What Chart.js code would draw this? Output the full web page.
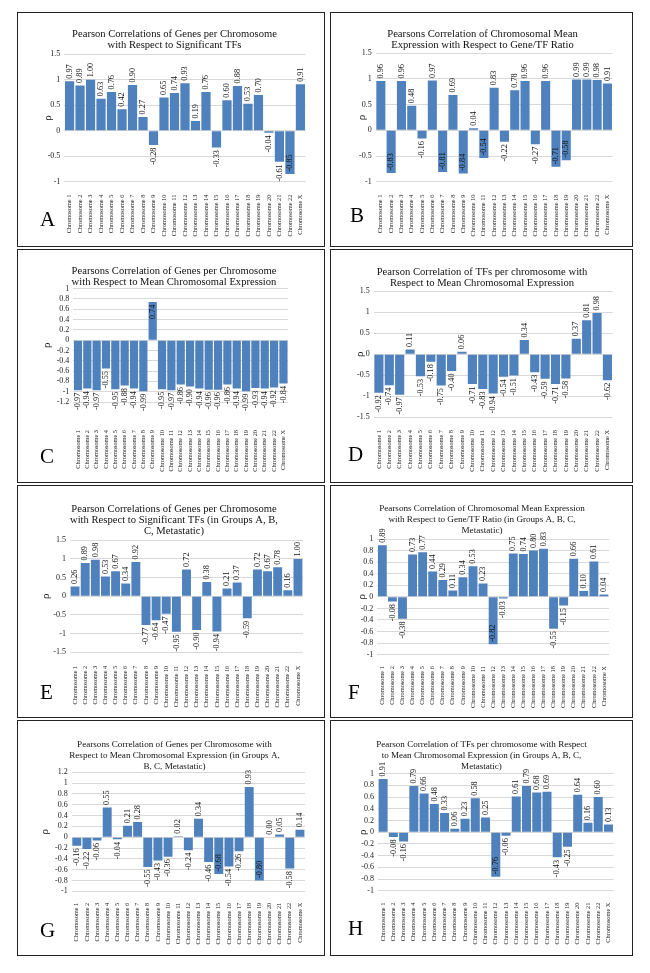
<!DOCTYPE html>
<html>
<head>
<meta charset="utf-8">
<script src="https://cdn.jsdelivr.net/npm/chart.js@4.4.0/dist/chart.umd.min.js"></script>
<style>
  body { margin: 0; width: 650px; height: 973px; position: relative; overflow: hidden; background: #fff; font-family: "Liberation Serif", "Times New Roman", serif; }
  .box { position: absolute; border: 1.5px solid #222; box-sizing: border-box; }
  .wrap { position: absolute; }
  .letter { position: absolute; font-size: 21px; line-height: 1; color: #000; }
</style>
</head>
<body>
<script>
// Categories
const chromosomes = [
  "Chromosome 1", "Chromosome 2", "Chromosome 3", "Chromosome 4", "Chromosome 5", "Chromosome 6",
  "Chromosome 7", "Chromosome 8", "Chromosome 9", "Chromosome 10", "Chromosome 11", "Chromosome 12",
  "Chromosome 13", "Chromosome 14", "Chromosome 15", "Chromosome 16", "Chromosome 17", "Chromosome 18",
  "Chromosome 19", "Chromosome 20", "Chromosome 21", "Chromosome 22", "Chromosome X"
];

// Correlation values per panel
const valuesA = [0.97, 0.89, 1.00, 0.63, 0.76, 0.42, 0.90, 0.27, -0.28, 0.65, 0.74, 0.93, 0.19, 0.76, -0.33, 0.60, 0.88, 0.53, 0.70, -0.04, -0.61, -0.85, 0.91];
const valuesB = [0.96, -0.83, 0.96, 0.48, -0.16, 0.97, -0.81, 0.69, -0.84, 0.04, -0.54, 0.83, -0.22, 0.78, 0.96, -0.27, 0.96, -0.71, -0.58, 0.99, 0.99, 0.98, 0.91];
const valuesC = [-0.97, -0.94, -0.97, -0.55, -0.95, -0.88, -0.94, -0.99, 0.74, -0.95, -0.97, -0.86, -0.90, -0.94, -0.96, -0.96, -0.86, -0.94, -0.99, -0.93, -0.94, -0.92, -0.84];
const valuesD = [-0.92, -0.74, -0.97, 0.11, -0.53, -0.18, -0.75, -0.40, 0.06, -0.71, -0.83, -0.94, -0.54, -0.51, 0.34, -0.43, -0.59, -0.71, -0.58, 0.37, 0.81, 0.98, -0.62];
const valuesE = [0.26, 0.89, 0.98, 0.53, 0.67, 0.34, 0.92, -0.77, -0.64, -0.47, -0.95, 0.72, -0.90, 0.38, -0.94, 0.21, 0.37, -0.59, 0.72, 0.67, 0.78, 0.16, 1.00];
const valuesF = [0.89, -0.08, -0.38, 0.73, 0.77, 0.44, 0.29, 0.11, 0.34, 0.53, 0.23, -0.82, -0.03, 0.75, 0.74, 0.80, 0.83, -0.55, -0.15, 0.66, 0.10, 0.61, 0.04];
const valuesG = [-0.16, -0.22, -0.06, 0.55, -0.04, 0.21, 0.28, -0.55, -0.43, -0.36, 0.02, -0.24, 0.34, -0.46, -0.68, -0.54, -0.26, 0.93, -0.80, 0.00, 0.05, -0.58, 0.14];
const valuesH = [0.91, -0.08, -0.16, 0.79, 0.66, 0.48, 0.33, 0.06, 0.23, 0.58, 0.25, -0.76, -0.06, 0.61, 0.79, 0.68, 0.69, -0.43, -0.25, 0.64, 0.16, 0.60, 0.13];

// Y axis ticks: [min, max, step]
const axisA = [-1, 1.5, 0.5];
const axisB = [-1, 1.5, 0.5];
const axisC = [-1.2, 1, 0.2];
const axisD = [-1.5, 1.5, 0.5];
const axisE = [-1.5, 1.5, 0.5];
const axisF = [-1, 1, 0.2];
const axisG = [-1, 1.2, 0.2];
const axisH = [-1, 1, 0.2];

// Titles
const titleA = ["Pearson Correlations of Genes per Chromosome", "with Respect to Significant TFs"];
const titleB = ["Pearsons Correlation of Chromosomal Mean", "Expression with Respect to Gene/TF Ratio"];
const titleC = ["Pearsons Correlation of Genes per Chromosome", "with Respect to Mean Chromosomal Expression"];
const titleD = ["Pearson Correlation of TFs per chromosome with", "Respect to Mean Chromosomal Expression"];
const titleE = ["Pearson Correlations of Genes per Chromosome", "with Respect to Significant TFs (in Groups A, B,", "C, Metastatic)"];
const titleF = ["Pearsons Correlation of Chromosomal Mean Expression", "with Respect to Gene/TF Ratio (in Groups A, B, C,", "Metastatic)"];
const titleG = ["Pearsons Correlation of Genes per Chromosome with", "Respect to Mean Chromosomal Expression (in Groups A,", "B, C, Metastatic)"];
const titleH = ["Pearson Correlation of TFs per chromosome with Respect", "to Mean Chromosomal Expression (in Groups A, B, C,", "Metastatic)"];

const SERIF = '"Liberation Serif", "Times New Roman", serif';
Chart.defaults.font.family = SERIF;

// Page layout of each panel (pixels)
const panels = [
  { letter: "A", values: valuesA, title: titleA, axis: axisA, box: [17, 12, 325, 247], plot: [64.3, 54.3, 312.7, 181.7], titleX: 174.2, titleY: 34, titleW: 205, rhoX: 48, xPad: 5, letterPos: [40, 209], room: [20, 0] },
  { letter: "B", values: valuesB, title: titleB, axis: axisB, box: [330, 12, 633, 247], plot: [375.7, 53.3, 620, 181.7], titleX: 482.7, titleY: 34, titleW: 191, rhoX: 362, xPad: 5, letterPos: [350, 205], room: [20, -4] },
  { letter: "C", values: valuesC, title: titleC, axis: axisC, box: [17, 249, 325, 483], plot: [73.3, 288.7, 311, 402], titleX: 174.2, titleY: 271, titleW: 205, rhoX: 47, xPad: 20, letterPos: [40, 446], room: [0, 15] },
  { letter: "D", values: valuesD, title: titleD, axis: axisD, box: [330, 249, 633, 483], plot: [373.7, 291.3, 620, 417], titleX: 481.8, titleY: 272, titleW: 211, rhoX: 360, xPad: 5, letterPos: [348, 444], room: [20, 10] },
  { letter: "E", values: valuesE, title: titleE, axis: axisE, box: [17, 485, 325, 718], plot: [70, 540.3, 311, 652.3], titleX: 173.8, titleY: 509, titleW: 205.7, rhoX: 46, xPad: 5.5, letterPos: [40, 682], room: [20, 10] },
  { letter: "F", values: valuesF, title: titleF, axis: axisF, box: [330, 485, 633, 718], plot: [377.3, 539, 614.7, 654.7], titleX: 481.7, titleY: 508.7, titleW: 206, rhoX: 362, xPad: 3.5, letterPos: [348, 682], room: [20, 0] },
  { letter: "G", values: valuesG, title: titleG, axis: axisG, box: [17, 720, 325, 956], plot: [71.7, 772.3, 311, 891.3], titleX: 174.3, titleY: 744.7, titleW: 195, rhoX: 45, xPad: 3.5, letterPos: [40, 920], room: [20, 0] },
  { letter: "H", values: valuesH, title: titleH, axis: axisH, box: [330, 720, 633, 956], plot: [378, 773.7, 620, 890.7], titleX: 481.5, titleY: 744.7, titleW: 211, rhoX: 363, xPad: 4, letterPos: [348, 918], room: [20, 0] }
];

// Rotated value labels, outside the bar end unless they run out of room
const barValues = {
  id: "barValues",
  afterDatasetsDraw(chart, args, opts) {
    const { ctx, chartArea } = chart;
    const meta = chart.getDatasetMeta(0);
    const vals = chart.data.datasets[0].data;
    const gap = 2.5;
    ctx.save();
    ctx.font = "8.3px " + SERIF;
    ctx.fillStyle = "#111";
    ctx.textBaseline = "middle";
    meta.data.forEach((bar, i) => {
      const v = vals[i];
      const txt = v.toFixed(2);
      const w = ctx.measureText(txt).width;
      let align, y;
      if (v >= 0) {
        const inside = bar.y - gap - w < chartArea.top - opts.roomTop;
        align = inside ? "right" : "left";
        y = inside ? bar.y + gap : bar.y - gap;
      } else {
        const inside = bar.y + gap + w > chartArea.bottom + opts.roomBottom;
        align = inside ? "left" : "right";
        y = inside ? bar.y - gap : bar.y + gap;
      }
      ctx.save();
      ctx.translate(bar.x, y);
      ctx.rotate(-Math.PI / 2);
      ctx.textAlign = align;
      ctx.fillText(txt, 0, 0);
      ctx.restore();
    });
    ctx.restore();
  }
};

// helper canvas for measuring title widths
const measureCtx = document.createElement("canvas").getContext("2d");

function makePanel(p) {
  const box = document.createElement("div");
  box.className = "box";
  box.style.left = p.box[0] + "px";
  box.style.top = p.box[1] + "px";
  box.style.width = (p.box[2] - p.box[0]) + "px";
  box.style.height = (p.box[3] - p.box[1]) + "px";
  document.body.appendChild(box);

  // canvas area: title centred over it, plot ends at its right edge
  const wl = Math.round(2 * p.titleX - p.plot[2]);
  const wt = p.box[1] + 2;
  const wr = Math.round(p.plot[2]);
  const wb = p.box[3] - 2;

  const wrap = document.createElement("div");
  wrap.className = "wrap";
  wrap.style.left = wl + "px";
  wrap.style.top = wt + "px";
  wrap.style.width = (wr - wl) + "px";
  wrap.style.height = (wb - wt) + "px";
  const canvas = document.createElement("canvas");
  wrap.appendChild(canvas);
  document.body.appendChild(wrap);

  const letter = document.createElement("div");
  letter.className = "letter";
  letter.textContent = p.letter;
  letter.style.left = p.letterPos[0] + "px";
  letter.style.top = p.letterPos[1] + "px";
  document.body.appendChild(letter);

  // fit title font size to the measured width of its first line
  measureCtx.font = "10px " + SERIF;
  const titleSize = 10 * p.titleW / measureCtx.measureText(p.title[0]).width;
  const lineH = 11;
  const padTop = p.titleY - wt - lineH / 2;
  const padBottom = p.plot[1] - wt - padTop - lineH * p.title.length;

  new Chart(canvas, {
    type: "bar",
    data: {
      labels: chromosomes,
      datasets: [{
        data: p.values,
        backgroundColor: "#4F81BD",
        borderWidth: 0,
        barPercentage: 0.88,
        categoryPercentage: 1
      }]
    },
    options: {
      responsive: true,
      maintainAspectRatio: false,
      animation: false,
      layout: { padding: 0 },
      plugins: {
        legend: { display: false },
        tooltip: { enabled: false },
        title: {
          display: true,
          text: p.title,
          color: "#111",
          font: { family: SERIF, size: titleSize, weight: "normal", lineHeight: lineH / titleSize },
          padding: { top: padTop, bottom: padBottom }
        },
        barValues: { roomTop: p.room[0], roomBottom: p.room[1] }
      },
      scales: {
        x: {
          grid: { display: false },
          border: { display: false },
          ticks: {
            autoSkip: false,
            minRotation: 90,
            maxRotation: 90,
            padding: p.xPad,
            color: "#222",
            font: { family: SERIF, size: 6.3 }
          },
          afterFit: (scale) => { scale.height = wb - p.plot[3]; }
        },
        y: {
          min: p.axis[0],
          max: p.axis[1],
          grid: { color: "#d9d9d9", drawTicks: false },
          border: { display: false },
          ticks: {
            stepSize: p.axis[2],
            autoSkip: false,
            padding: 4,
            color: "#222",
            font: { family: SERIF, size: 8 },
            callback: (v) => String(+v.toFixed(1))
          },
          title: {
            display: true,
            text: "ρ",
            color: "#111",
            font: { family: SERIF, size: 11 },
            padding: { top: p.rhoX - wl - 6.6, bottom: 0 }
          },
          afterFit: (scale) => { scale.width = p.plot[0] - wl; }
        }
      }
    },
    plugins: [barValues]
  });
}

panels.forEach(makePanel);
</script>
</body>
</html>
